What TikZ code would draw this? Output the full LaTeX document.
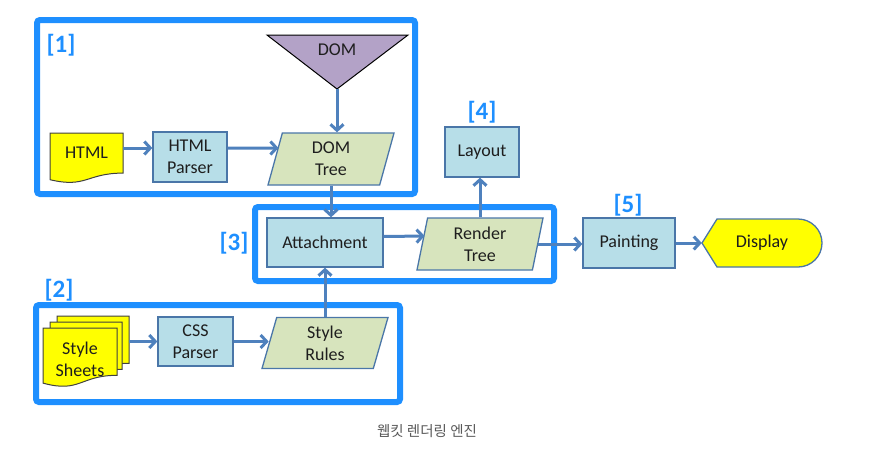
\documentclass[tikz,border=0pt]{standalone}
\usepackage{fontspec}
\setmainfont{Carlito}
\newfontfamily\krfont{Noto Sans CJK KR}
\usepackage{tikz}
\usetikzlibrary{shapes.geometric,arrows.meta}
\definecolor{framebl}{HTML}{1E8FFF}
\definecolor{arrowbl}{HTML}{4F81BD}
\definecolor{boxedge}{HTML}{4A76A8}
\definecolor{procfill}{HTML}{B7DEE8}
\definecolor{datafill}{HTML}{D7E4BD}
\definecolor{docyellow}{HTML}{FFFF00}
\definecolor{domfill}{HTML}{B3A2C7}
\definecolor{txt}{HTML}{1E1E1E}
\tikzset{
  every node/.style={font=\fontsize{18}{22}\selectfont, text=txt},
  procbox/.style={draw=boxedge, fill=procfill, line width=1.3pt, minimum width=74pt, minimum height=50pt, inner sep=0pt, align=center},
  databox/.style={trapezium, trapezium left angle=67, trapezium right angle=113, trapezium stretches body,
    draw=boxedge, fill=datafill, line width=1.3pt, minimum width=126pt, minimum height=52pt, inner sep=0pt, align=center},
  frame/.style={draw=framebl, line width=6pt, rounded corners=3pt},
  tag/.style={text=framebl, font=\fontsize{25}{25}\selectfont\bfseries},
  arr/.style={draw=arrowbl, line width=3pt, -{Straight Barb[length=6pt,width=13pt]}},
  docshape/.style={fill=docyellow, draw=black!75, line width=1pt},
}
% document page with wavy bottom: x, y, width, height
\newcommand{\docpage}[4]{\filldraw[docshape] (#1,#2) -- ({#1+#3},#2) -- ({#1+#3},{#2+0.802*#4})
  .. controls ({#1+0.5*#3},{#2+0.802*#4}) and ({#1+0.5*#3},{#2+1.1075*#4}) .. (#1,{#2+0.934*#4}) -- cycle;}

\begin{document}
\begin{tikzpicture}[x=1pt,y=-1pt]
\useasboundingbox (0,0) rectangle (873,461);
% frames
\draw[frame] (37,20) rectangle (415,194);
\draw[frame] (36,305) rectangle (400,402);
\draw[frame] (255,207) rectangle (554,281);
\node[tag] (t1) at (61,45) {[1]};
\node[tag] (t2) at (59,290) {[2]};
\node[tag] (t3) at (234,243) {[3]};
\node[tag] (t4) at (482,112) {[4]};
\node[tag] (t5) at (628,205) {[5]};
% DOM
\filldraw[fill=domfill, draw=black, line width=1pt] (267,35) -- (408,35) -- (337,89) -- cycle;
\node (dom) at (337,50) {DOM}; \coordinate (dom-tip) at (337,89);
% HTML side
\docpage{50}{133}{73}{50}
\node[minimum width=73pt, minimum height=40pt, inner sep=0pt] (html) at (86.5,153) {HTML};
\node[procbox] (hparser) at (190,157) {HTML\\Parser};
\node[databox] (domtree) at (331,159) {DOM\\Tree};
% CSS side
\docpage{57}{316}{72}{59}
\docpage{50}{322}{72}{59}
\docpage{43}{328}{74}{59}
\node[align=center] (sheets) at (80,359) {Style\\Sheets}; \coordinate (sheets-e) at (129,341.5);
\node[procbox, minimum width=75pt, minimum height=49pt] (cparser) at (195.5,341.5) {CSS\\Parser};
\node[databox, minimum height=51pt] (rules) at (325,343) {Style\\Rules};
% render side
\node[procbox, minimum width=116pt, minimum height=49pt] (attach) at (325,242.5) {Attachment};
\node[databox, trapezium left angle=73, trapezium right angle=107] (render) at (480,244) {Render\\Tree};
\node[procbox] (layout) at (482,152) {Layout};
\node[procbox, minimum width=92pt] (paint) at (629,243) {Painting};
\filldraw[fill=docyellow, draw=boxedge, line width=1.3pt] (702,243) -- (717,219) -- (798,219) arc[start angle=-90, end angle=90, radius=24] -- (717,267) -- cycle;
\node[minimum width=120pt, minimum height=48pt, inner sep=0pt] (disp) at (762,243) {Display};
% connectors
\draw[arr] ([yshift=5pt]html.east) -- ([yshift=9pt]hparser.west);
\draw[arr] ([yshift=9pt]hparser.east) -- ([xshift=4pt,yshift=11pt]domtree.west);
\draw[arr] (dom-tip) -- (dom-tip |- domtree.north);
\draw[arr] (domtree.south) -- (domtree.south |- attach.north);
\draw[arr] (sheets-e) -- (cparser.west);
\draw[arr] (cparser.east) -- (cparser.east -| rules.west);
\draw[arr] (rules.north) -- (rules.north |- attach.south);
\draw[arr] ([yshift=6pt]attach.east) -- ([xshift=3pt,yshift=8pt]render.west);
\draw[arr] (render.north) -- (render.north |- layout.south);
\draw[arr] (render.east) -- (render.east -| paint.west);
\draw[arr] (paint.east) -- (disp.west);
% caption
\node[text=black!65, font=\krfont\fontsize{14.5}{16}\selectfont] (cap) at (427,431) {웹킷 렌더링 엔진};
\end{tikzpicture}
\end{document}
